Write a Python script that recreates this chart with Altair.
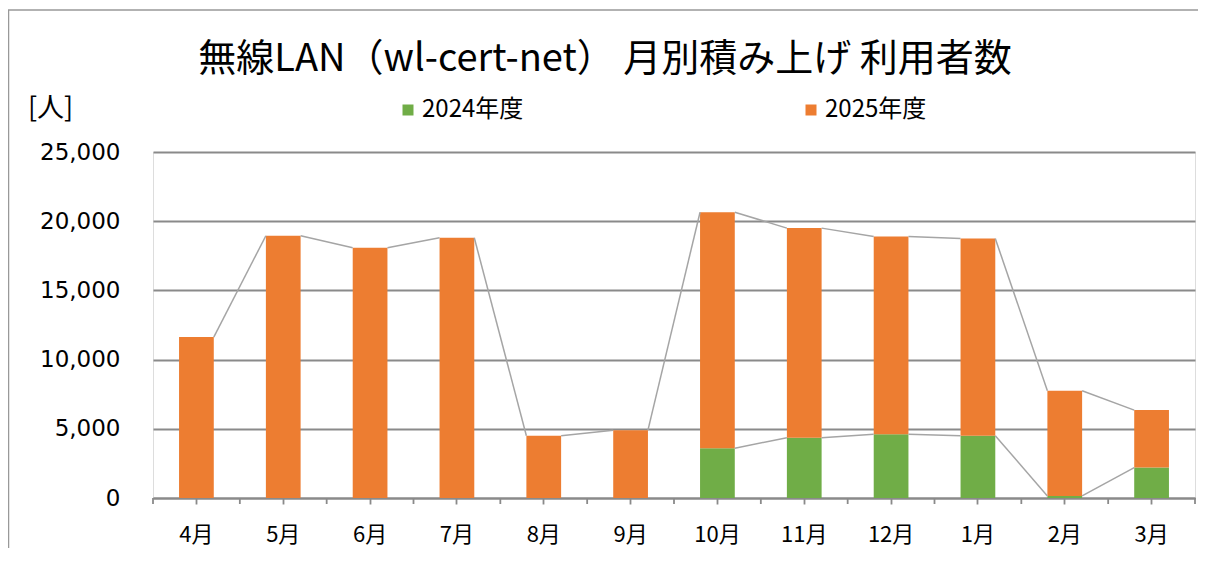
import altair as alt
import pandas as pd

months = ["4月", "5月", "6月", "7月", "8月", "9月", "10月", "11月", "12月", "1月", "2月", "3月"]
series_names = ["2024年度", "2025年度"]
fy2024 = [None, None, None, None, None, None, 3600, 4350, 4600, 4500, 150, 2200]
fy2025 = [11630, 18950, 18080, 18800, 4500, 4900, 17050, 15150, 14300, 14250, 7600, 4150]
colors = ["#70AD47", "#ED7D31"]
y_ticks = [0, 5000, 10000, 15000, 20000, 25000]
title_text = "無線LAN（wl-cert-net） 月別積み上げ 利用者数"
y_title = "[人]"

# ---- tables built from the arrays ----
rows = []
for i, m in enumerate(months):
    for k, (name, vals) in enumerate(zip(series_names, [fy2024, fy2025])):
        if vals[i] is not None:
            rows.append({"month": m, "series": name, "value": vals[i], "order": k})
bars_df = pd.DataFrame(rows)

tops = {
    "2024年度": list(fy2024),
    "2025年度": [(a or 0) + b for a, b in zip(fy2024, fy2025)],
}
segs = []
for name in series_names:
    t = tops[name]
    for i in range(len(months) - 1):
        if t[i] is not None and t[i + 1] is not None:
            segs.append({"m1": months[i], "m2": months[i + 1], "v1": t[i], "v2": t[i + 1]})
segs_df = pd.DataFrame(segs)
months_df = pd.DataFrame({"month": months})
last_df = pd.DataFrame({"month": [months[-1]]})

W, H = 1042, 346
step = W / len(months)
pad_inner = 0.6
half_bar = step * (1 - pad_inner) / 2
half_step = step / 2

JP = "Noto Sans CJK JP"
GRAY = "#8a8a8a"
LW = 1.8

xscale = alt.Scale(type="band", domain=months, paddingInner=pad_inner, paddingOuter=pad_inner / 2)
yscale = alt.Scale(domain=[0, 25000], nice=False)

xaxis = alt.Axis(title=None, labelAngle=0, labelFontSize=22, labelFont=JP, labelColor="#000000",
                 tickSize=6, tickColor=GRAY, tickWidth=LW, domainColor=GRAY, domainWidth=LW,
                 labelPadding=20, grid=False)
yaxis = alt.Axis(values=y_ticks, format=",d", title=y_title, titleAngle=0, titleX=-103, titleY=-44,
                 titleAlign="center", titleBaseline="middle", titleFontSize=27, titleFont=JP,
                 titleFontWeight="normal", titleColor="#000000",
                 labelFontSize=23, labelFont="DejaVu Sans", labelColor="#000000", labelPadding=33,
                 ticks=False, domain=False, grid=True, gridColor=GRAY, gridWidth=LW)

bars = alt.Chart(bars_df).mark_bar().encode(
    x=alt.X("month:N", scale=xscale, axis=xaxis, sort=None),
    y=alt.Y("value:Q", scale=yscale, axis=yaxis, stack="zero"),
    color=alt.Color("series:N", scale=alt.Scale(domain=series_names, range=colors),
                    legend=alt.Legend(orient="none", legendX=243, legendY=-54, direction="horizontal",
                                      title=None, symbolType="square", symbolSize=121,
                                      symbolStrokeWidth=0, labelFontSize=24, labelFont=JP,
                                      labelColor="#000000", labelOffset=2, columnPadding=275,
                                      padding=0)),
    order=alt.Order("order:Q", sort="ascending"),
)

lines = alt.Chart(segs_df).mark_rule(color="#a5a5a5", strokeWidth=1.5,
                                     xOffset=half_bar, x2Offset=-half_bar).encode(
    x=alt.X("m1:N", scale=xscale, axis=xaxis, sort=None),
    x2="m2:N",
    y=alt.Y("v1:Q", scale=yscale, axis=yaxis),
    y2="v2:Q",
)

bticks = alt.Chart(months_df).mark_rule(color=GRAY, strokeWidth=LW, xOffset=-half_step).encode(
    x=alt.X("month:N", scale=xscale, axis=xaxis, sort=None),
    y=alt.value(H), y2=alt.value(H + 6),
)
bticks_end = alt.Chart(last_df).mark_rule(color=GRAY, strokeWidth=LW, xOffset=half_step).encode(
    x=alt.X("month:N", scale=xscale, axis=xaxis, sort=None),
    y=alt.value(H), y2=alt.value(H + 6),
)

frame_data = alt.Data(values=[{"a": 1}])
frame_left = alt.Chart(frame_data).mark_rule(color="#999999", strokeWidth=1.5).encode(
    x=alt.value(-144.5), y=alt.value(-142), y2=alt.value(420))
frame_top = alt.Chart(frame_data).mark_rule(color="#999999", strokeWidth=1.5).encode(
    x=alt.value(-145), x2=alt.value(W + 10), y=alt.value(-142))

chart = alt.layer(bars, lines, bticks, bticks_end, frame_left, frame_top).properties(
    width=W, height=H,
    title=alt.TitleParams(title_text, font=JP, fontSize=38, fontWeight="normal", color="#000000",
                          anchor="middle", dx=-69, dy=70, offset=0),
    autosize=alt.AutoSizeParams(type="none"),
    padding={"left": 145, "top": 144, "right": 3, "bottom": 50},
).configure_view(stroke=GRAY, strokeWidth=LW).configure(background="white")

chart.save("out.html", embed_options={"renderer": "svg", "actions": False})
